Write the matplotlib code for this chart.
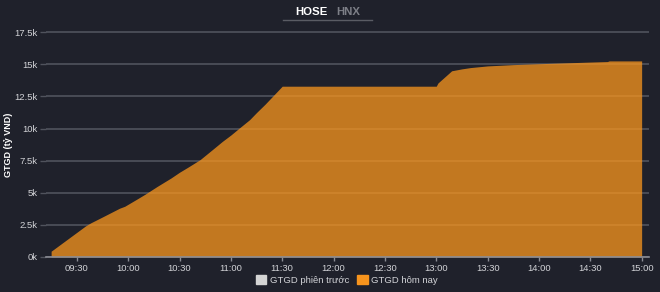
import matplotlib
matplotlib.use("Agg")
import matplotlib.pyplot as plt
import matplotlib.patches as mpatches

# cumulative trading value (ty VND, in thousands) by time of day
times = ["09:15", "09:20", "09:25", "09:30", "09:35", "09:38", "09:45", "09:50",
         "09:55", "09:58", "10:05", "10:10", "10:17", "10:25", "10:30", "10:35",
         "10:42", "10:50", "10:55", "11:00", "11:05", "11:11", "11:15", "11:20",
         "11:25", "11:30", "12:00", "12:30", "13:00", "13:01", "13:09", "13:15",
         "13:20", "13:30", "13:45", "14:00", "14:30", "14:40", "14:41", "15:00"]
today = [0.45, 0.94, 1.43, 1.92, 2.41, 2.65, 3.12, 3.46,
         3.80, 3.95, 4.50, 4.90, 5.50, 6.15, 6.60, 7.00,
         7.58, 8.45, 9.00, 9.50, 10.05, 10.70, 11.25, 11.90,
         12.60, 13.30, 13.30, 13.30, 13.30, 13.55, 14.50, 14.65,
         14.75, 14.88, 14.98, 15.05, 15.18, 15.22, 15.27, 15.27]

x_ticks = ["09:30", "10:00", "10:30", "11:00", "11:30", "12:00", "12:30",
           "13:00", "13:30", "14:00", "14:30", "15:00"]
y_ticks = [0, 2.5, 5, 7.5, 10, 12.5, 15, 17.5]
y_labels = ["0k", "2.5k", "5k", "7.5k", "10k", "12.5k", "15k", "17.5k"]


def to_min(s):
    h, m = s.split(":")
    return int(h) * 60 + int(m)


bg = "#1f212b"
orange = "#f7941d"
grid_c = "#50535d"
text_c = "#d2d3d7"

plt.rcParams['font.family'] = ['Liberation Sans', 'DejaVu Sans']

fig = plt.figure(figsize=(6.6, 2.92), dpi=100, facecolor=bg)
ax = fig.add_axes([46 / 660, 1 - 257 / 292, (649 - 46) / 660, (257 - 22) / 292])
ax.set_facecolor(bg)

xs = [to_min(t) for t in times]
ax.fill_between(xs, today, 0, color=orange, alpha=0.76, linewidth=0, zorder=3)

ax.set_xlim(to_min("09:12"), to_min("15:04") + 0.3)
ax.set_ylim(0, 18.3)

ax.set_yticks(y_ticks)
ax.set_yticklabels(y_labels)
ax.set_xticks([to_min(t) for t in x_ticks])
ax.set_xticklabels(x_ticks)

ax.grid(axis='y', color=grid_c, linewidth=1.2, zorder=1)
ax.tick_params(axis='y', length=4, width=1, color=grid_c, colors=text_c,
               labelsize=6.8, pad=2)
ax.tick_params(axis='x', length=3, width=1, color="#8a8c94", colors=text_c,
               labelsize=6.8, pad=2)
for s in ["top", "right", "left"]:
    ax.spines[s].set_visible(False)
ax.spines["bottom"].set_color("#8a8c94")
ax.spines["bottom"].set_linewidth(1.2)
ax.spines["bottom"].set_zorder(4)

ax.set_ylabel("GTGD (tỷ VND)", color="white", fontsize=6.5, fontweight="bold")
ax.yaxis.set_label_coords((13 - 46) / 603, (257 - 145) / 235)

# market tabs
fig.text(311 / 660, 1 - 12 / 292, "HOSE", color="white", fontsize=8.2,
         fontweight="bold", ha="center", va="center")
fig.text(348 / 660, 1 - 12 / 292, "HNX", color="#7d7f87", fontsize=8.2,
         fontweight="bold", ha="center", va="center")
fig.add_artist(plt.Line2D([283 / 660, 372 / 660], [1 - 19.5 / 292, 1 - 19.5 / 292],
                          color="#5a5c64", linewidth=1))

legend = [mpatches.Patch(color="#d4d4d4", label="GTGD phiên trước"),
          mpatches.Patch(color=orange, label="GTGD hôm nay")]
fig.legend(handles=legend, loc="center", bbox_to_anchor=(347 / 660, 1 - 280 / 292),
           ncol=2, frameon=False, fontsize=6.8, labelcolor=text_c,
           handlelength=1.1, handleheight=1.1, handletextpad=0.4, columnspacing=0.8)

fig.savefig("out.png", dpi=100, facecolor=bg)
